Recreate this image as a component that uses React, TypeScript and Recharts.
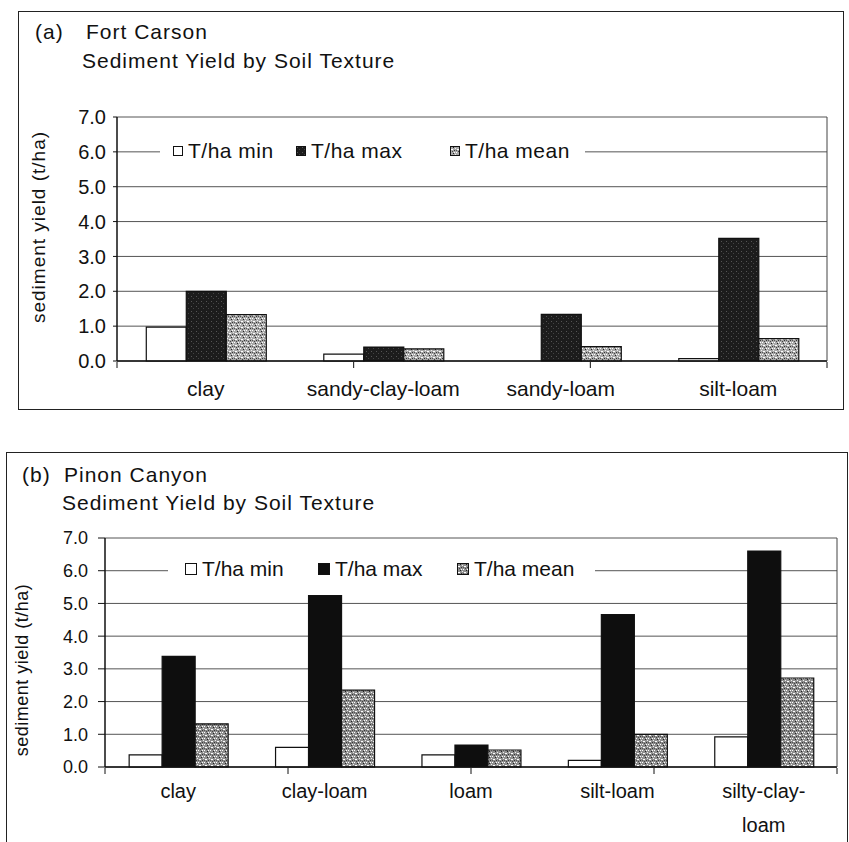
import { BarChart, Bar, XAxis, YAxis, CartesianGrid, Legend } from 'recharts'

const FONT = '"Liberation Sans", Arial, sans-serif'

// (a) Fort Carson
const catsA = ['clay', 'sandy-clay-loam', 'sandy-loam', 'silt-loam']
const minA = [0.97, 0.2, 0.0, 0.07]
const maxA = [2.0, 0.4, 1.34, 3.52]
const meanA = [1.33, 0.35, 0.41, 0.64]

// (b) Pinon Canyon
const catsB = ['clay', 'clay-loam', 'loam', 'silt-loam', 'silty-clay-loam']
const minB = [0.37, 0.6, 0.37, 0.2, 0.92]
const maxB = [3.38, 5.24, 0.67, 4.66, 6.6]
const meanB = [1.32, 2.35, 0.52, 1.0, 2.72]

const yTicks = [0, 1, 2, 3, 4, 5, 6, 7]
const seriesOrder = ['min', 'max', 'mean']
const seriesNames = { min: 'T/ha min', max: 'T/ha max', mean: 'T/ha mean' }
const yLabel = 'sediment yield (t/ha)'

function splitLabel(s: string, maxChars: number) {
  if (s.length <= maxChars) return [s]
  const i = s.lastIndexOf('-', maxChars)
  if (i < 0) return [s]
  return [s.slice(0, i + 1), s.slice(i + 1)]
}

function CatTick(props: any) {
  const { x, y, payload, cfg } = props
  const lines = splitLabel(String(payload.value), cfg.maxChars)
  return (
    <g>
      {lines.map((l, i) => (
        <text
          key={i}
          x={x}
          y={y + cfg.dy + i * cfg.lineH}
          textAnchor="middle"
          fontSize={cfg.fontSize}
          fontFamily={FONT}
          fill="#111"
          style={{ letterSpacing: cfg.ls }}
        >
          {l}
        </text>
      ))}
    </g>
  )
}

function YLabel({ cx, cy, fontSize, ls }: any) {
  return (
    <text
      x={cx}
      y={cy}
      transform={`rotate(-90 ${cx} ${cy})`}
      textAnchor="middle"
      dominantBaseline="central"
      fontSize={fontSize}
      fontFamily={FONT}
      fill="#111"
      style={{ letterSpacing: ls }}
    >
      {yLabel}
    </text>
  )
}

function Patterns({ id, dark }: { id: string; dark: boolean }) {
  return (
    <defs>
      <pattern id={`mean-${id}`} width="6" height="6" patternUnits="userSpaceOnUse">
        <rect width="6" height="6" fill={dark ? '#8e8e8e' : '#a8a8a8'} />
        <rect x="0" y="0" width="1" height="1" fill="#fff" />
        <rect x="3" y="1" width="1" height="1" fill="#222" />
        <rect x="1" y="3" width="2" height="1" fill="#fff" />
        <rect x="4" y="4" width="1" height="1" fill="#333" />
        <rect x="5" y="2" width="1" height="1" fill="#eee" />
        <rect x="2" y="5" width="1" height="1" fill="#444" />
        <rect x="0" y="4" width="1" height="1" fill="#555" />
        <rect x="4" y="0" width="1" height="1" fill="#fff" />
      </pattern>
      <pattern id={`max-${id}`} width="5" height="5" patternUnits="userSpaceOnUse">
        <rect width="5" height="5" fill={dark ? '#0e0e0e' : '#1c1c1c'} />
        {!dark && <rect x="1" y="1" width="1" height="1" fill="#555" />}
        {!dark && <rect x="3" y="3" width="1" height="1" fill="#444" />}
      </pattern>
    </defs>
  )
}

function LegendBox({ payload, cfg }: any) {
  const fills: Record<string, string> = {
    min: '#fff',
    max: `url(#max-${cfg.id})`,
    mean: `url(#mean-${cfg.id})`,
  }
  const items = [...(payload || [])].sort(
    (a: any, b: any) => seriesOrder.indexOf(a.dataKey) - seriesOrder.indexOf(b.dataKey)
  )
  const s = cfg.icon
  return (
    <div
      style={{
        position: 'relative',
        background: '#fff',
        height: 26,
        fontFamily: FONT,
        fontSize: cfg.fontSize,
        letterSpacing: cfg.ls,
        color: '#111',
      }}
    >
      {items.map((p: any, i: number) => (
        <div
          key={p.dataKey}
          style={{ position: 'absolute', left: cfg.offsets[i], top: 0, height: 26, display: 'flex', alignItems: 'center', whiteSpace: 'nowrap' }}
        >
          <svg width={s} height={s} style={{ marginRight: cfg.gap }}>
            <rect x="0.5" y="0.5" width={s - 1} height={s - 1} fill={fills[p.dataKey]} stroke="#111" />
          </svg>
          <span>{p.value}</span>
        </div>
      ))}
    </div>
  )
}

function Panel(props: any) {
  const { cats, min, max, mean, cfg } = props
  const data = cats.map((c: string, i: number) => ({ name: c, min: min[i], max: max[i], mean: mean[i] }))
  const bounds = cats.map((_: string, i: number) => i).concat([cats.length])
  return (
    <div style={{ position: 'absolute', left: 0, top: cfg.top }}>
      <BarChart
        width={849}
        height={cfg.height}
        data={data}
        margin={cfg.margin}
        barGap={0}
        barCategoryGap="16.5%"
      >
        <Patterns id={cfg.id} dark={cfg.dark} />
        <CartesianGrid vertical={false} stroke="#555" strokeWidth={1} />
        {/* category axis sits right on the plot; labels are drawn below it by CatTick */}
        <XAxis
          dataKey="name"
          interval={0}
          height={1}
          tickSize={0}
          tickMargin={0}
          tickLine={false}
          axisLine={{ stroke: '#111', strokeWidth: 1.5 }}
          tick={(p: any) => <CatTick {...p} cfg={cfg.cat} />}
        />
        {/* tick marks between categories */}
        <XAxis
          xAxisId="b"
          type="number"
          domain={[0, cats.length]}
          allowDataOverflow
          ticks={bounds}
          interval={0}
          tick={() => <g />}
          tickSize={6}
          tickLine={{ stroke: '#111' }}
          axisLine={false}
          height={cfg.xHeight - 1}
        />
        <YAxis
          domain={[0, 7]}
          ticks={yTicks}
          interval={0}
          width={60}
          tickSize={cfg.yTickSize}
          tickMargin={cfg.yTickMargin}
          tickFormatter={(v: number) => v.toFixed(1)}
          tick={{ fontSize: cfg.yFont, fill: '#111', fontFamily: FONT }}
          tickLine={{ stroke: '#111' }}
          axisLine={{ stroke: '#111', strokeWidth: 1.5 }}
          label={<YLabel cx={cfg.yLabel.cx} cy={cfg.yLabel.cy} fontSize={cfg.yLabel.fontSize} ls={cfg.yLabel.ls} />}
        />
        <YAxis yAxisId="r" orientation="right" domain={[0, 7]} width={1} tick={false} tickLine={false} axisLine={{ stroke: '#444' }} />
        <Legend
          layout="horizontal"
          verticalAlign="middle"
          align="center"
          wrapperStyle={{ left: cfg.legend.left, top: cfg.legend.top, width: cfg.legend.width }}
          content={(p: any) => <LegendBox payload={p.payload} cfg={{ ...cfg.legend, id: cfg.id }} />}
        />
        <Bar dataKey="min" name={seriesNames.min} fill="#fff" stroke="#111" strokeWidth={1.2} isAnimationActive={false} />
        <Bar dataKey="max" name={seriesNames.max} fill={`url(#max-${cfg.id})`} stroke="#111" strokeWidth={1.2} isAnimationActive={false} />
        <Bar dataKey="mean" name={seriesNames.mean} fill={`url(#mean-${cfg.id})`} stroke="#111" strokeWidth={1.2} isAnimationActive={false} />
      </BarChart>
    </div>
  )
}

const cfgA = {
  id: 'a',
  dark: false,
  top: 0,
  height: 420,
  margin: { top: 117, right: 21, bottom: 19, left: 57 },
  xHeight: 40,
  yFont: 20,
  yTickSize: 4,
  yTickMargin: 7,
  cat: { fontSize: 21, ls: 0, dy: 35, lineH: 30, maxChars: 20 },
  yLabel: { cx: 38, cy: 227, fontSize: 19, ls: 1 },
  legend: { left: 160, top: 138, width: 425, offsets: [13, 136, 290], icon: 10, gap: 5, fontSize: 21, ls: 0.5 },
}

const cfgB = {
  id: 'b',
  dark: true,
  top: 420,
  height: 422,
  margin: { top: 118, right: 11, bottom: 15, left: 45 },
  xHeight: 60,
  yFont: 18,
  yTickSize: 7,
  yTickMargin: 10,
  cat: { fontSize: 20, ls: 0, dy: 31, lineH: 34, maxChars: 12 },
  yLabel: { cx: 22, cy: 250, fontSize: 18, ls: 0.5 },
  legend: { left: 168, top: 136, width: 427, offsets: [17, 150, 289], icon: 12, gap: 5, fontSize: 21, ls: 0 },
}

const titleStyle = { position: 'absolute' as const, fontFamily: FONT, fontSize: 21, letterSpacing: 1, lineHeight: '24px', color: '#111', whiteSpace: 'nowrap' as const }

export default function App() {
  return (
    <div style={{ position: 'absolute', left: 0, top: 0, width: 849, height: 842, overflow: 'hidden', background: '#fff' }}>
      <div style={{ position: 'absolute', left: 18, top: 11, width: 824, height: 397, border: '1px solid #222' }} />
      <div style={{ position: 'absolute', left: 6, top: 452, width: 840, height: 420, border: '1px solid #222' }} />
      <div style={{ ...titleStyle, left: 35, top: 20 }}>(a)</div>
      <div style={{ ...titleStyle, left: 86, top: 20 }}>Fort Carson</div>
      <div style={{ ...titleStyle, left: 82, top: 49 }}>Sediment Yield by Soil Texture</div>
      <div style={{ ...titleStyle, left: 22, top: 463 }}>(b)</div>
      <div style={{ ...titleStyle, left: 64, top: 463 }}>Pinon Canyon</div>
      <div style={{ ...titleStyle, left: 62, top: 491 }}>Sediment Yield by Soil Texture</div>
      <Panel cats={catsA} min={minA} max={maxA} mean={meanA} cfg={cfgA} />
      <Panel cats={catsB} min={minB} max={maxB} mean={meanB} cfg={cfgB} />
    </div>
  )
}
